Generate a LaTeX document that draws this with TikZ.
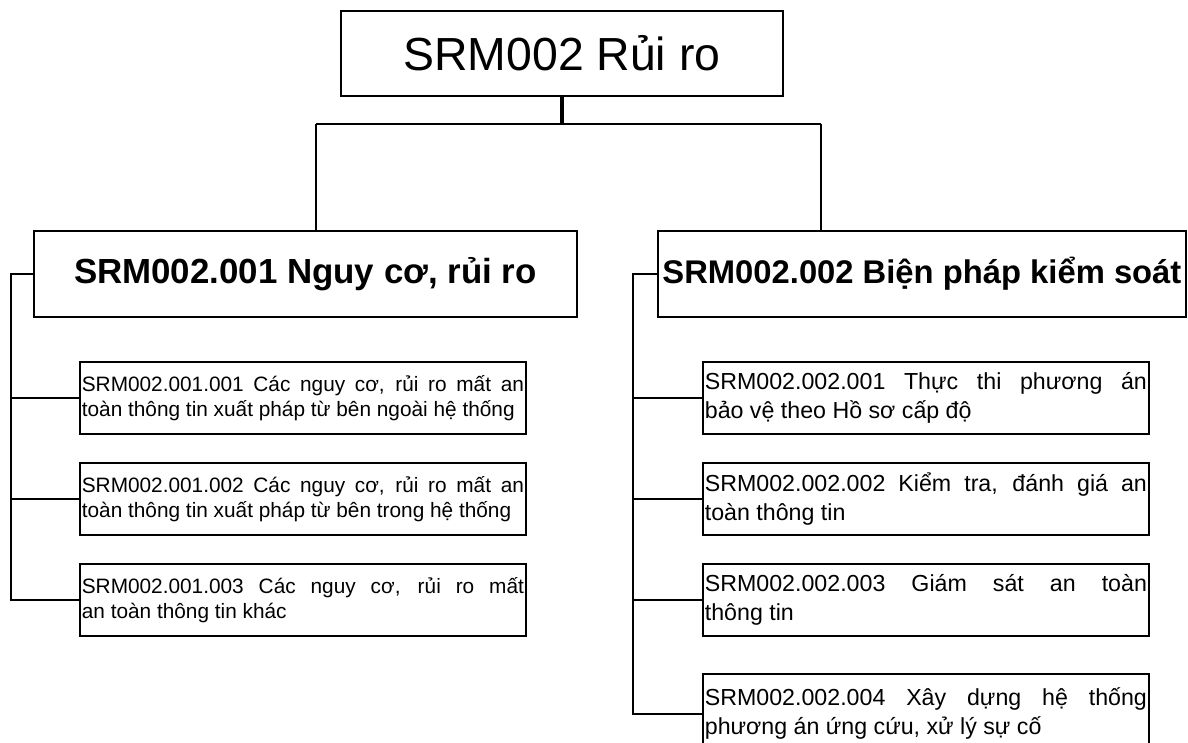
\documentclass[tikz,border=0pt]{standalone}
\usepackage{fontspec}
\setmainfont{Liberation Sans}
\usepackage{tikz}
\usetikzlibrary{positioning,calc}

\begin{document}
\begin{tikzpicture}[
    x=0.025cm, y=-0.025cm,
    rootbox/.style={draw, line width=1.2pt, minimum width=11.05cm,
      minimum height=2.125cm, font=\fontsize{33}{39}\selectfont},
    groupbox/.style={draw, line width=1.2pt, minimum height=2.15cm,
      inner xsep=1pt, font=\fontsize{24.8}{29}\selectfont\bfseries},
    leafL/.style={draw, line width=1.2pt, text width=11.05cm,
      minimum height=1.8cm, inner xsep=0.05cm, align=justify,
      font=\fontsize{14.8}{18}\selectfont},
    leafR/.style={leafL, font=\fontsize{16.5}{20.5}\selectfont},
    link/.style={line width=1.2pt},
    stem/.style={line width=2.6pt}
  ]
    \useasboundingbox (0,0) rectangle (1188,742);

    % Root
    \node[rootbox, anchor=north west] (root) at (340,10) {SRM002 Rủi ro};

    % Level 1
    \node[groupbox, minimum width=13.575cm, anchor=north west] (g1) at (33,230)
      {SRM002.001 Nguy cơ, rủi ro};
    \node[groupbox, minimum width=13.2cm, anchor=north west,
      font=\fontsize{23.3}{28}\selectfont\bfseries] (g2) at (657,230)
      {SRM002.002 Biện pháp kiểm soát};

    % Level 2 (left)
    \node[leafL, anchor=north west] (s11) at (79,361)
      {SRM002.001.001 Các nguy cơ, rủi ro mất an\linebreak toàn thông tin xuất pháp từ bên ngoài hệ thống};
    \node[leafL, anchor=north west] (s12) at (79,462)
      {SRM002.001.002 Các nguy cơ, rủi ro mất an\linebreak toàn thông tin xuất pháp từ bên trong hệ thống};
    \node[leafL, anchor=north west] (s13) at (79,563)
      {SRM002.001.003 Các nguy cơ, rủi ro mất\linebreak an toàn thông tin khác};

    % Level 2 (right)
    \node[leafR, anchor=north west] (s21) at (702,361)
      {SRM002.002.001 Thực thi phương án\linebreak bảo vệ theo Hồ sơ cấp độ};
    \node[leafR, anchor=north west] (s22) at (702,462)
      {SRM002.002.002 Kiểm tra, đánh giá an\linebreak toàn thông tin};
    \node[leafR, anchor=north west] (s23) at (702,563)
      {SRM002.002.003 Giám sát an toàn\linebreak thông tin};
    \node[leafR, anchor=north west, minimum height=2.0cm] (s24) at (702,673)
      {SRM002.002.004 Xây dựng hệ thống\linebreak phương án ứng cứu, xử lý sự cố};

    % Root to level 1
    \coordinate (barL) at (316,124);
    \coordinate (barR) at (821,124);
    \draw[stem] (root.south) -- (root.south |- barL);
    \draw[link] (barL) -- (barR);
    \draw[link] (barL) -- (barL |- g1.north);
    \draw[link] (barR) -- (barR |- g2.north);

    % Left rail
    \coordinate (railL) at (11,0);
    \draw[link] (g1.west) -| (railL |- s13.west) -- (s13.west);
    \foreach \n in {s11,s12}
      \draw[link] (\n.west) -- (railL |- \n.west);

    % Right rail
    \coordinate (railR) at (633,0);
    \draw[link] (g2.west) -| (railR |- s24.west) -- (s24.west);
    \foreach \n in {s21,s22,s23}
      \draw[link] (\n.west) -- (railR |- \n.west);
\end{tikzpicture}
\end{document}
